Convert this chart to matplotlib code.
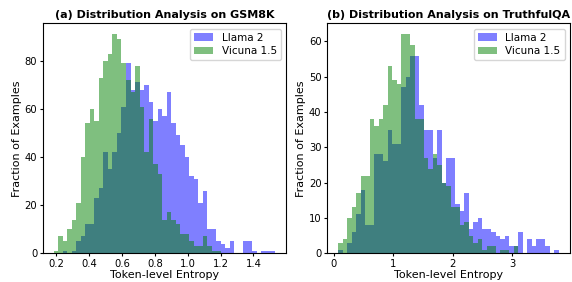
import numpy as np
import matplotlib
matplotlib.use("Agg")
import matplotlib.pyplot as plt

# bin ranges (49 shared bins per panel)
gsm_lo, gsm_hi = 0.184, 1.531
tqa_lo, tqa_hi = 0.075, 3.78

# GSM8K counts per bin
gsm_llama = [0, 0, 1, 0, 1, 5, 7, 12, 12, 23, 27, 42, 35, 42, 50, 61, 79, 68, 71, 68,
             70, 63, 55, 60, 57, 67, 54, 49, 45, 40, 32, 31, 21, 26, 10, 10, 5, 4, 2, 5,
             0, 0, 5, 5, 1, 0, 1, 1, 1]
gsm_vicuna = [1, 7, 5, 10, 14, 21, 40, 54, 60, 55, 73, 80, 83, 91, 89, 79, 72, 67, 78, 61,
              42, 56, 37, 33, 14, 17, 14, 12, 8, 8, 5, 3, 3, 7, 3, 1, 1, 0, 0, 0,
              0, 0, 0, 0, 0, 0, 0, 0, 0]

# TruthfulQA counts per bin
tqa_llama = [1, 0, 3, 6, 11, 18, 8, 8, 28, 28, 26, 35, 31, 31, 47, 50, 56, 56, 42, 35,
             35, 27, 35, 20, 27, 27, 14, 12, 17, 7, 9, 10, 7, 7, 6, 5, 4, 5, 2, 2,
             6, 0, 4, 2, 4, 4, 2, 0, 1]
tqa_vicuna = [3, 4, 10, 13, 17, 22, 22, 38, 36, 38, 42, 53, 49, 48, 62, 62, 59, 38, 38, 27,
              24, 28, 25, 20, 19, 13, 13, 8, 9, 5, 3, 4, 1, 2, 2, 0, 1, 1, 0, 2,
              0, 0, 0, 0, 0, 0, 0, 0, 0]

titles = ["(a) Distribution Analysis on GSM8K", "(b) Distribution Analysis on TruthfulQA"]
gsm_xticks = [0.2, 0.4, 0.6, 0.8, 1.0, 1.2, 1.4]
tqa_xticks = [0, 1, 2, 3]

fig = plt.figure(figsize=(5.72, 2.82), dpi=100)
ax1 = fig.add_axes([0.0747, 0.1018, 0.4253, 0.8152])
ax2 = fig.add_axes([0.5717, 0.1018, 0.4248, 0.8152])

panels = [(ax1, gsm_lo, gsm_hi, gsm_llama, gsm_vicuna, titles[0], gsm_xticks),
          (ax2, tqa_lo, tqa_hi, tqa_llama, tqa_vicuna, titles[1], tqa_xticks)]

for ax, lo, hi, llama, vicuna, title, xt in panels:
    edges = np.linspace(lo, hi, len(llama) + 1)
    ax.hist(edges[:-1], bins=edges, weights=llama, color="blue", alpha=0.5, label="Llama 2")
    ax.hist(edges[:-1], bins=edges, weights=vicuna, color="green", alpha=0.5, label="Vicuna 1.5")
    ax.set_xticks(xt)
    ax.set_title(title, fontsize=8, fontweight="bold", pad=4)
    ax.set_xlabel("Token-level Entropy", fontsize=8, labelpad=1)
    ax.set_ylabel("Fraction of Examples", fontsize=8, labelpad=2)
    ax.tick_params(labelsize=7.2, length=2.5, pad=1.5)
    ax.legend(loc="upper right", fontsize=7.5, handlelength=1.8, borderpad=0.4,
              labelspacing=0.3)

fig.savefig("out.png", dpi=100)
